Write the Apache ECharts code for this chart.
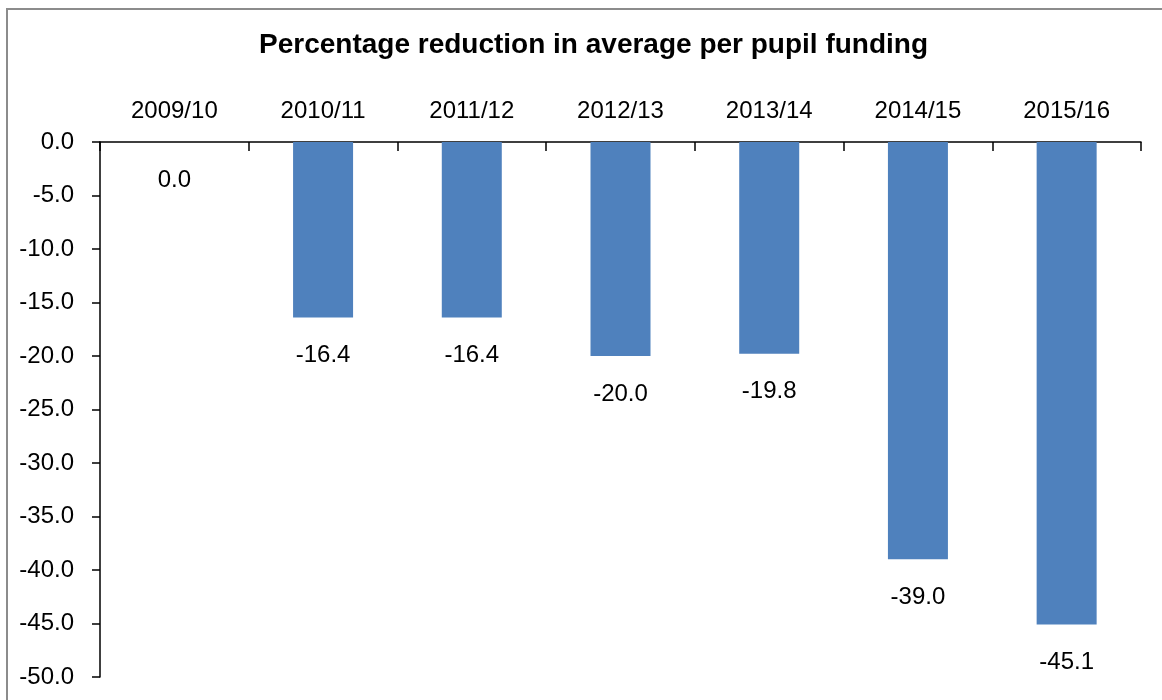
<!DOCTYPE html>
<html>
<head>
<meta charset="utf-8">
<script src="https://cdn.jsdelivr.net/npm/echarts@6/dist/echarts.min.js"></script>
<style>
html,body{margin:0;padding:0;background:#fff;}
#chart{width:1162px;height:700px;}
</style>
</head>
<body>
<div id="chart"></div>
<script>
var titleText = 'Percentage reduction in average per pupil funding';
var categories = ['2009/10', '2010/11', '2011/12', '2012/13', '2013/14', '2014/15', '2015/16'];
var values = [0.0, -16.4, -16.4, -20.0, -19.8, -39.0, -45.1];

var FONT = '"Liberation Sans", Arial, sans-serif';
var chart = echarts.init(document.getElementById('chart'));
chart.setOption({
  animation: false,
  backgroundColor: '#ffffff',
  title: {
    text: titleText,
    left: 254,
    top: 26,
    textStyle: { fontFamily: FONT, fontSize: 28, fontWeight: 'bold', color: '#000' }
  },
  graphic: [{
    type: 'rect',
    shape: { x: 7, y: 9, width: 1300, height: 900 },
    style: { fill: 'none', stroke: '#8c8c8c', lineWidth: 2 },
    silent: true
  }],
  grid: { left: 100, right: 21, top: 142, bottom: 23, containLabel: false },
  xAxis: {
    type: 'category',
    position: 'top',
    data: categories,
    axisLine: { show: true, lineStyle: { color: '#000', width: 1.5 } },
    axisTick: { show: true, inside: true, length: 9, interval: 0, alignWithLabel: false, lineStyle: { color: '#000', width: 1.5 } },
    axisLabel: { margin: 19, fontFamily: FONT, fontSize: 24, color: '#000' },
    splitLine: { show: false }
  },
  yAxis: {
    type: 'value',
    min: -50,
    max: 0,
    interval: 5,
    axisLine: { show: true, lineStyle: { color: '#000', width: 1.5 } },
    axisTick: { show: true, length: 8, lineStyle: { color: '#000', width: 1.5 } },
    axisLabel: {
      margin: 26, fontFamily: FONT, fontSize: 24, color: '#000',
      formatter: function (v) { return v.toFixed(1); }
    },
    splitLine: { show: false }
  },
  series: [{
    type: 'bar',
    data: values,
    barWidth: 60,
    itemStyle: { color: '#4F81BD' },
    label: {
      show: true,
      position: 'bottom',
      distance: 26,
      fontFamily: FONT,
      fontSize: 24,
      color: '#000',
      formatter: function (p) { return p.value.toFixed(1); }
    }
  }]
});
</script>
</body>
</html>
